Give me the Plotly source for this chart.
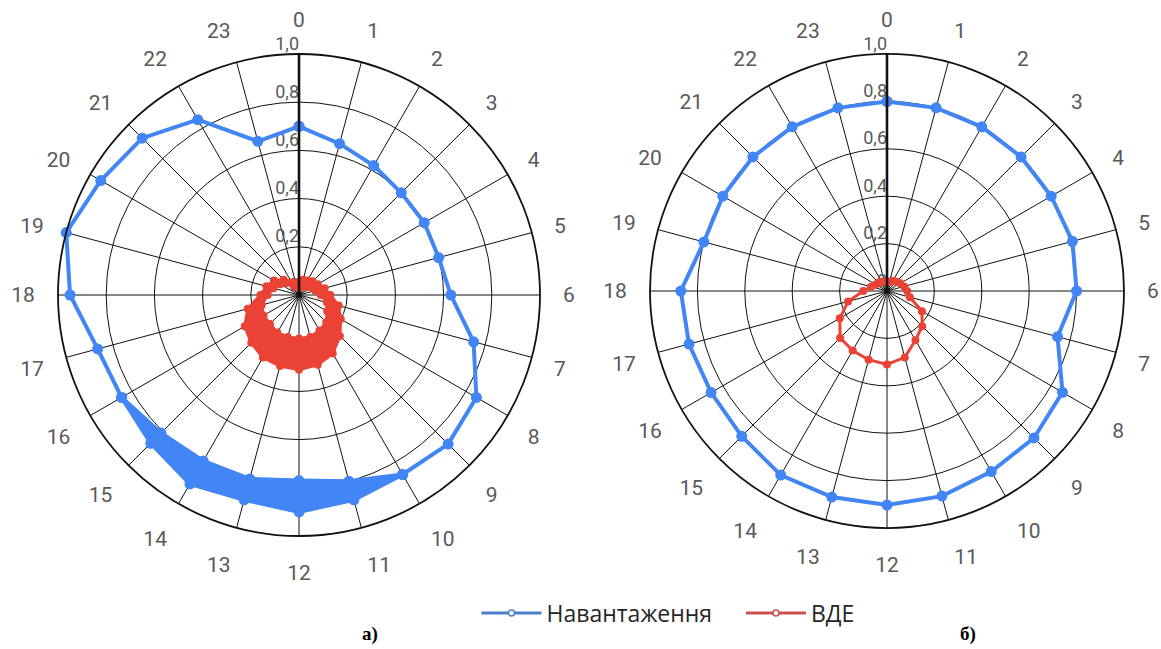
import plotly.graph_objects as go

hours = [str(h) for h in range(24)]

# Chart a) — load (Навантаження), outer edge of the line
load_a = [0.70, 0.65, 0.62, 0.60, 0.60, 0.60, 0.63, 0.75, 0.85, 0.875, 0.86, 0.88,
          0.90, 0.88, 0.905, 0.87, 0.85, 0.865, 0.95, 1.00, 0.95, 0.92, 0.84, 0.66]
# inner edge of the thick blue band (hours 10..16)
band_hours_a = ["10", "11", "12", "13", "14", "15", "16"]
load_a_inner = [0.86, 0.80, 0.77, 0.79, 0.795, 0.81, 0.85]

# Chart a) — renewables (ВДЕ), band outer / inner edges
res_a_outer = [0.055, 0.065, 0.07, 0.08, 0.09, 0.11, 0.13, 0.17, 0.20, 0.24, 0.28, 0.30,
               0.31, 0.305, 0.30, 0.28, 0.26, 0.22, 0.16, 0.14, 0.12, 0.09, 0.06, 0.05]
res_a_inner = [0.03, 0.035, 0.04, 0.05, 0.06, 0.07, 0.09, 0.12, 0.135, 0.16, 0.17, 0.18,
               0.18, 0.18, 0.18, 0.17, 0.17, 0.16, 0.13, 0.11, 0.09, 0.07, 0.045, 0.035]

# Chart б)
load_b = [0.80, 0.80, 0.80, 0.80, 0.80, 0.81, 0.80, 0.745, 0.855, 0.877, 0.88, 0.896,
          0.903, 0.90, 0.897, 0.867, 0.857, 0.865, 0.87, 0.80, 0.80, 0.80, 0.80, 0.80]
res_b = [0.04, 0.04, 0.05, 0.055, 0.065, 0.075, 0.085, 0.10, 0.17, 0.21, 0.24, 0.29,
         0.31, 0.30, 0.29, 0.28, 0.23, 0.17, 0.10, 0.07, 0.055, 0.05, 0.045, 0.04]

radial_ticks = [0, 0.2, 0.4, 0.6, 0.8, 1.0]
radial_labels = ["0", "0,2", "0,4", "0,6", "0,8", "1,0"]

series_names = ["Навантаження", "ВДЕ"]
panel_labels = ["а)", "б)"]

BLUE = "#4285F4"
RED = "#EA4335"
GRID = "#111111"

def closed(vals):
    return list(vals) + [vals[0]]

fig = go.Figure()

for sp in ["polar", "polar2"]:
    fig.add_trace(go.Scatterpolar(
        r=radial_ticks, theta=["0"] * len(radial_ticks), text=radial_labels,
        mode="text", textposition="top left",
        textfont=dict(family="Roboto", size=18, color="#595959"),
        showlegend=False, hoverinfo="skip", subplot=sp))

# ---- chart a) ----
# red band
fig.add_trace(go.Scatterpolar(
    r=closed(res_a_outer) + closed(res_a_inner)[::-1],
    theta=closed(hours) + closed(hours)[::-1],
    mode="lines", fill="toself", fillcolor=RED, line=dict(color=RED, width=1),
    showlegend=False, hoverinfo="skip", subplot="polar"))
for vals in (res_a_outer, res_a_inner):
    fig.add_trace(go.Scatterpolar(
        r=closed(vals), theta=closed(hours), mode="lines+markers",
        line=dict(color=RED, width=3), marker=dict(size=8, color=RED),
        showlegend=False, subplot="polar"))

# blue band
outer_band = [load_a[hours.index(h)] for h in band_hours_a]
fig.add_trace(go.Scatterpolar(
    r=outer_band + load_a_inner[::-1],
    theta=band_hours_a + band_hours_a[::-1],
    mode="lines", fill="toself", fillcolor=BLUE, line=dict(color=BLUE, width=1),
    showlegend=False, hoverinfo="skip", subplot="polar"))
fig.add_trace(go.Scatterpolar(
    r=load_a_inner, theta=band_hours_a, mode="lines+markers",
    line=dict(color=BLUE, width=4), marker=dict(size=11, color=BLUE),
    showlegend=False, subplot="polar"))
fig.add_trace(go.Scatterpolar(
    r=closed(load_a), theta=closed(hours), mode="lines+markers",
    line=dict(color=BLUE, width=4), marker=dict(size=11, color=BLUE),
    showlegend=False, subplot="polar"))

# ---- chart б) ----
fig.add_trace(go.Scatterpolar(
    r=closed(res_b), theta=closed(hours), mode="lines+markers",
    line=dict(color=RED, width=3), marker=dict(size=8, color=RED),
    showlegend=False, subplot="polar2"))
fig.add_trace(go.Scatterpolar(
    r=closed(load_b), theta=closed(hours), mode="lines+markers",
    line=dict(color=BLUE, width=4), marker=dict(size=11, color=BLUE),
    showlegend=False, subplot="polar2"))

# legend-only entries
fig.add_trace(go.Scatterpolar(
    r=[None], theta=[None], mode="lines+markers", name=series_names[0] + "\u00a0\u00a0\u00a0\u00a0",
    line=dict(color="#4A7EC9", width=3),
    marker=dict(size=6, color="white", line=dict(color="#4A7EC9", width=1.5)),
    subplot="polar"))
fig.add_trace(go.Scatterpolar(
    r=[None], theta=[None], mode="lines+markers", name=series_names[1],
    line=dict(color="#C9504D", width=3),
    marker=dict(size=6, color="white", line=dict(color="#C9504D", width=1.5)),
    subplot="polar"))

def polar_layout(xdom, ydom):
    return dict(
        domain=dict(x=xdom, y=ydom),
        bgcolor="white",
        angularaxis=dict(
            type="category", categoryorder="array", categoryarray=hours,
            rotation=90, direction="clockwise",
            showline=True, linecolor=GRID, linewidth=1.8,
            showgrid=True, gridcolor=GRID, gridwidth=1.4,
            ticks="outside", ticklen=18, tickcolor="rgba(0,0,0,0)",
            tickfont=dict(family="Roboto", size=21, color="#595959"),
        ),
        radialaxis=dict(
            range=[0, 1], tickvals=radial_ticks[1:], showticklabels=False,
            ticks="", angle=90,
            showline=True, linecolor=GRID, linewidth=2.6,
            showgrid=True, gridcolor=GRID, gridwidth=1.4,
        ),
    )

fig.update_layout(
    width=1161, height=649,
    margin=dict(l=0, r=0, t=0, b=0),
    paper_bgcolor="white",
    polar=polar_layout([58 / 1161, 540 / 1161], [1 - 536 / 649, 1 - 54 / 649]),
    polar2=polar_layout([650 / 1161, 1124 / 1161], [1 - 528 / 649, 1 - 54 / 649]),
    showlegend=True,
    legend=dict(orientation="h", x=668 / 1161, xanchor="center", y=1 - 613 / 649, yanchor="middle",
                font=dict(family="Open Sans", size=23, color="#262626"),
                bgcolor="rgba(0,0,0,0)", itemwidth=60),
    annotations=[
        dict(text="<b>" + panel_labels[0] + "</b>", x=370 / 1161, y=1 - 634 / 649,
             xref="paper", yref="paper", xanchor="center", yanchor="middle",
             showarrow=False, font=dict(family="Liberation Serif", size=19, color="black")),
        dict(text="<b>" + panel_labels[1] + "</b>", x=968 / 1161, y=1 - 634 / 649,
             xref="paper", yref="paper", xanchor="center", yanchor="middle",
             showarrow=False, font=dict(family="Liberation Serif", size=19, color="black")),
    ],
)

fig.write_html("out.html", config={"displayModeBar": False},
               post_script="document.body.style.margin='0px';document.body.style.overflow='hidden';")
